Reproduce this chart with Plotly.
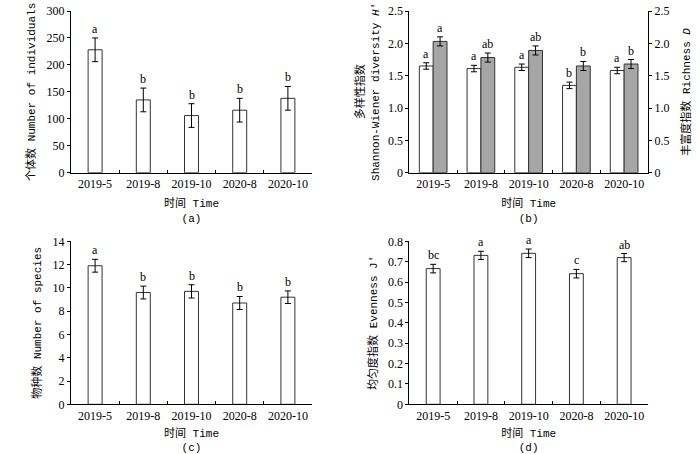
import plotly.graph_objects as go

categories = ["2019-5", "2019-8", "2019-10", "2020-8", "2020-10"]

# (a) Number of individuals
individuals = [228, 135, 106, 116, 138]
individuals_err = [22, 22, 22, 22, 22]
individuals_sig = ["a", "b", "b", "b", "b"]

# (b) Shannon-Wiener diversity H' (left) and Richness D (right)
shannon = [1.65, 1.61, 1.63, 1.35, 1.58]
shannon_err = [0.05, 0.05, 0.05, 0.05, 0.05]
shannon_sig = ["a", "a", "a", "b", "a"]
richness = [2.03, 1.78, 1.89, 1.65, 1.68]
richness_err = [0.07, 0.07, 0.07, 0.07, 0.07]
richness_sig = ["a", "ab", "ab", "b", "b"]

# (c) Number of species
species = [11.9, 9.6, 9.7, 8.7, 9.2]
species_err = [0.55, 0.55, 0.57, 0.56, 0.54]
species_sig = ["a", "b", "b", "b", "b"]

# (d) Evenness J'
evenness = [0.666, 0.731, 0.741, 0.641, 0.720]
evenness_err = [0.021, 0.020, 0.021, 0.021, 0.020]
evenness_sig = ["bc", "a", "a", "c", "ab"]

SERIF = "Liberation Serif"
TITLE_FONT = dict(family="Liberation Mono, Noto Sans CJK SC", size=11, color="black")
TICK_FONT = dict(family=SERIF, size=12, color="black")
BAR_W = 0.29
EDGE = "#333333"
GREY = "#a6a6a6"

def err(arr):
    return dict(type="data", array=arr, color="black", thickness=1, width=3)

fig = go.Figure()

fig.add_trace(go.Bar(x=categories, y=individuals, error_y=err(individuals_err), width=BAR_W,
                     marker=dict(color="white", line=dict(color=EDGE, width=1)),
                     xaxis="x", yaxis="y", showlegend=False))
fig.add_trace(go.Bar(x=categories, y=shannon, error_y=err(shannon_err), width=BAR_W, offset=-BAR_W,
                     marker=dict(color="white", line=dict(color=EDGE, width=1)),
                     xaxis="x2", yaxis="y2", showlegend=False))
fig.add_trace(go.Bar(x=categories, y=richness, error_y=err(richness_err), width=BAR_W, offset=0,
                     marker=dict(color=GREY, line=dict(color=EDGE, width=1)),
                     xaxis="x2", yaxis="y5", showlegend=False))
fig.add_trace(go.Bar(x=categories, y=species, error_y=err(species_err), width=BAR_W,
                     marker=dict(color="white", line=dict(color=EDGE, width=1)),
                     xaxis="x3", yaxis="y3", showlegend=False))
fig.add_trace(go.Bar(x=categories, y=evenness, error_y=err(evenness_err), width=BAR_W,
                     marker=dict(color="white", line=dict(color=EDGE, width=1)),
                     xaxis="x4", yaxis="y4", showlegend=False))

annotations = []
def add_letters(vals, errs, sigs, xref, yref, shift=0.0):
    for i, (v, e, s) in enumerate(zip(vals, errs, sigs)):
        annotations.append(dict(x=i + shift, y=v + e, xref=xref, yref=yref, text=s,
                                showarrow=False, yanchor="bottom", yshift=0,
                                font=dict(family=SERIF, size=12, color="black")))

add_letters(individuals, individuals_err, individuals_sig, "x", "y")
add_letters(shannon, shannon_err, shannon_sig, "x2", "y2", -BAR_W / 2)
add_letters(richness, richness_err, richness_sig, "x2", "y5", BAR_W / 2)
add_letters(species, species_err, species_sig, "x3", "y3")
add_letters(evenness, evenness_err, evenness_sig, "x4", "y4")

W, H = 700, 454
def dx(a, b):
    return [a / W, b / W]
def dy(top, bottom):
    return [1 - bottom / H, 1 - top / H]

def xaxis(dom, anchor, label):
    return dict(domain=dom, anchor=anchor, type="category", range=[-0.5, 4.5],
                showline=True, linecolor="black", linewidth=1, mirror=False,
                ticks="inside", tickson="boundaries", ticklen=3, tickcolor="black",
                tickfont=TICK_FONT, tickangle=0, showgrid=False, zeroline=False,
                automargin=False,
                title=dict(text=label, font=TITLE_FONT, standoff=9))

def yaxis(dom, anchor, rng, vals, texts, title, side="left", overlaying=None, standoff=8):
    d = dict(domain=dom, anchor=anchor, range=rng, tickvals=vals, ticktext=texts,
             showline=True, linecolor="black", linewidth=1, ticks="outside", ticklen=3,
             tickcolor="black", tickfont=TICK_FONT, showgrid=False, zeroline=False,
             automargin=False,
             side=side, title=dict(text=title, font=TITLE_FONT, standoff=standoff))
    if overlaying:
        d["overlaying"] = overlaying
    return d

ya = [0, 50, 100, 150, 200, 250, 300]
yb = [0, 0.5, 1.0, 1.5, 2.0, 2.5]
yb_t = ["0", "0.5", "1.0", "1.5", "2.0", "2.5"]
yc = [0, 2, 4, 6, 8, 10, 12, 14]
yd = [0, 0.1, 0.2, 0.3, 0.4, 0.5, 0.6, 0.7, 0.8]
yd_t = ["0", "0.1", "0.2", "0.3", "0.4", "0.5", "0.6", "0.7", "0.8"]

top_dom = dy(11, 172.7)
bot_dom = dy(241.3, 404.3)

fig.update_layout(
    width=W, height=H, margin=dict(l=0, r=0, t=0, b=0, autoexpand=False),
    paper_bgcolor="white", plot_bgcolor="white",
    xaxis=xaxis(dx(71, 312), "y", "时间 Time<br>(a)"),
    yaxis=yaxis(top_dom, "x", [0, 300], ya, [str(v) for v in ya], "个体数 Number of individuals"),
    xaxis2=xaxis(dx(409.3, 648), "y2", "时间 Time<br>(b)"),
    yaxis2=yaxis(top_dom, "x2", [0, 2.5], yb, yb_t, "多样性指数<br>Shannon-Wiener diversity <i>H</i>′", standoff=6),
    yaxis5=yaxis(top_dom, "x2", [0, 2.5], yb, yb_t, "丰富度指数 Richness <i>D</i>", side="right", overlaying="y2", standoff=13),
    xaxis3=xaxis(dx(71, 312), "y3", "时间 Time<br>(c)"),
    yaxis3=yaxis(bot_dom, "x3", [0, 14], yc, [str(v) for v in yc], "物种数 Number of species"),
    xaxis4=xaxis(dx(409.3, 648), "y4", "时间 Time<br>(d)"),
    yaxis4=yaxis(bot_dom, "x4", [0, 0.8], yd, yd_t, "均匀度指数 Evenness J′"),
    annotations=annotations,
)

fig.write_html("out.html", config={"displayModeBar": False},
               post_script="document.body.style.margin='0';document.body.style.overflow='hidden';")
